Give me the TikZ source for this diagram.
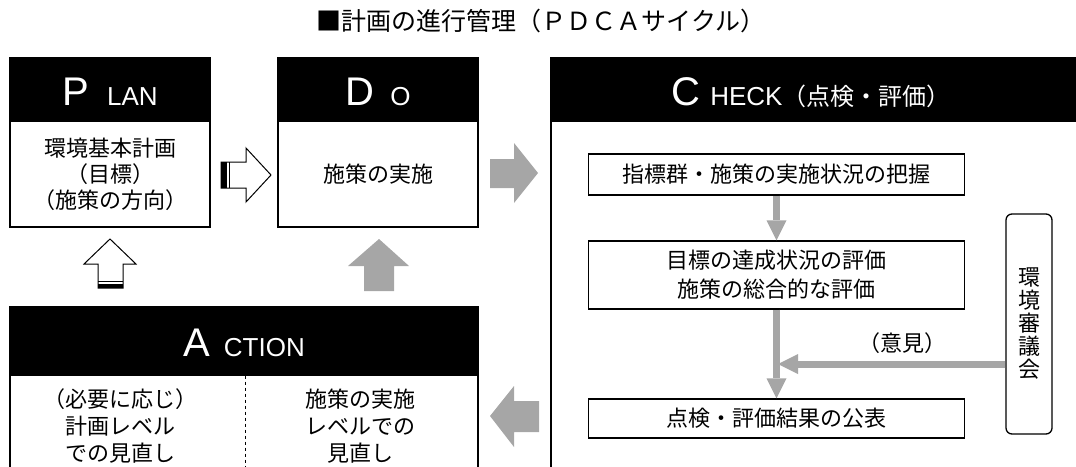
\documentclass[tikz,border=0pt]{standalone}
\usepackage{fontspec}
\setmainfont{Noto Sans CJK JP}
\newfontfamily\latinhd{Liberation Sans}
\usetikzlibrary{arrows.meta}
\newcommand\PDbig[1]{{\latinhd\fontsize{40}{40}\selectfont #1}}
\newcommand\PDsm[1]{{\latinhd\fontsize{26}{26}\selectfont #1}}
\begin{document}
\begin{tikzpicture}[x=1pt,y=-1pt,
  hdr/.style={fill=black, draw=black, line width=1.2pt, inner sep=0pt},
  hdrtext/.style={text=white, anchor=base, inner sep=0pt},
  body/.style={draw=black, line width=1.2pt, fill=white, align=center, font=\fontsize{22}{26}\selectfont, inner sep=0pt},
  txt/.style={align=center, font=\fontsize{22}{27}\selectfont, inner sep=0pt},
  inbox/.style={draw=black, line width=1.2pt, align=center, font=\fontsize{22}{29}\selectfont, inner sep=0pt, minimum width=376pt},
  garrow/.style={draw=black!35, line width=7pt, -{Triangle[width=20pt,length=20pt,line width=0pt]}},
  gshape/.style={fill=black!35},
  hshape/.style={draw=black, line width=1pt, fill=white},
]
\useasboundingbox (0,0) rectangle (1076,466);
\clip (0,0) rectangle (1076,466);

% title
\node[font=\fontsize{25}{25}\selectfont, inner sep=0pt] (title) at (541,21) {■計画の進行管理（ＰＤＣＡサイクル）};

% PLAN
\node[body, minimum width=200pt, minimum height=106pt] (planB) at (110,174) {環境基本計画\\（目標）\\（施策の方向）};
\node[hdr, minimum width=200pt, minimum height=63pt] (planH) at (110,89.5) {};
\node[hdrtext] (planT) at (110,105) {\PDbig{P}\hspace{18pt}\PDsm{LAN}};

% DO
\node[body, minimum width=200pt, minimum height=106pt] (doB) at (378,174) {施策の実施};
\node[hdr, minimum width=200pt, minimum height=63pt] (doH) at (378,89.5) {};
\node[hdrtext] (doT) at (378,105) {\PDbig{D}\hspace{16pt}\PDsm{O}};

% CHECK
\node[body, minimum width=540pt, minimum height=380pt] (checkB) at (821,311) {};
\node[hdr, minimum width=540pt, minimum height=63pt] (checkH) at (821,89.5) {};
\node[hdrtext] (checkT) at (811,105) {\PDbig{C}\hspace{10pt}\PDsm{HECK}{\fontsize{24}{24}\selectfont（点検・評価）}};

\node[inbox, minimum height=41pt] (c1) at (776.5,174.5) {指標群・施策の実施状況の把握};
\node[inbox, minimum height=68pt] (c2) at (776.5,275) {目標の達成状況の評価\\施策の総合的な評価};
\node[inbox, minimum height=39pt] (c3) at (776.5,418.5) {点検・評価結果の公表};
\node[draw=black, line width=1.3pt, rounded corners=6pt, minimum width=46pt, minimum height=220pt, inner sep=0pt, align=center, font=\fontsize{22}{23}\selectfont] (council) at (1029,324) {環\\境\\審\\議\\会};

\draw[garrow] (c1.south) -- (c2.north);
\draw[garrow] (c2.south) -- (c3.north);
\coordinate (merge) at (778,364);
\draw[garrow] (council.west |- merge) -- (merge);
\node[txt] (iken) at (902,343) {（意見）};

% ACTION
\node[body, minimum width=468pt, minimum height=120pt] (actB) at (244,435) {};
\node[hdr, minimum width=468pt, minimum height=68pt] (actH) at (244,341) {};
\node[hdrtext] (actT) at (244,356) {\PDbig{A}\hspace{14pt}\PDsm{CTION}};
\draw[dashed, line width=0.8pt] (actH.south) ++(1,0) -- ++(0,100);
\node[txt] (actL) at (120,426) {（必要に応じ）\\計画レベル\\での見直し};
\node[txt] (actR) at (360,426) {施策の実施\\レベルでの\\見直し};

% block arrows
\draw[hshape] (221,162) -- (246,162) -- (246,148) -- (271,175) -- (246,202) -- (246,188) -- (221,188) -- cycle;
\fill (221,162) rectangle (227,188);
\draw[line width=1pt] (229.5,162) -- (229.5,188);

\draw[hshape] (98,288) -- (98,264) -- (84,264) -- (110,239) -- (136,264) -- (123,264) -- (123,288) -- cycle;
\fill (98,284) rectangle (123,288);
\draw[line width=1pt] (98,281) -- (123,281);

\fill[gshape] (490,159) -- (514,159) -- (514,143) -- (538,173) -- (514,203) -- (514,188) -- (490,188) -- cycle;
\fill[gshape] (364,291) -- (364,266) -- (348,266) -- (379,239) -- (409,266) -- (394,266) -- (394,291) -- cycle;
\fill[gshape] (539,401) -- (514,401) -- (514,386) -- (490,416) -- (514,447) -- (514,432) -- (539,432) -- cycle;
\end{tikzpicture}
\end{document}
